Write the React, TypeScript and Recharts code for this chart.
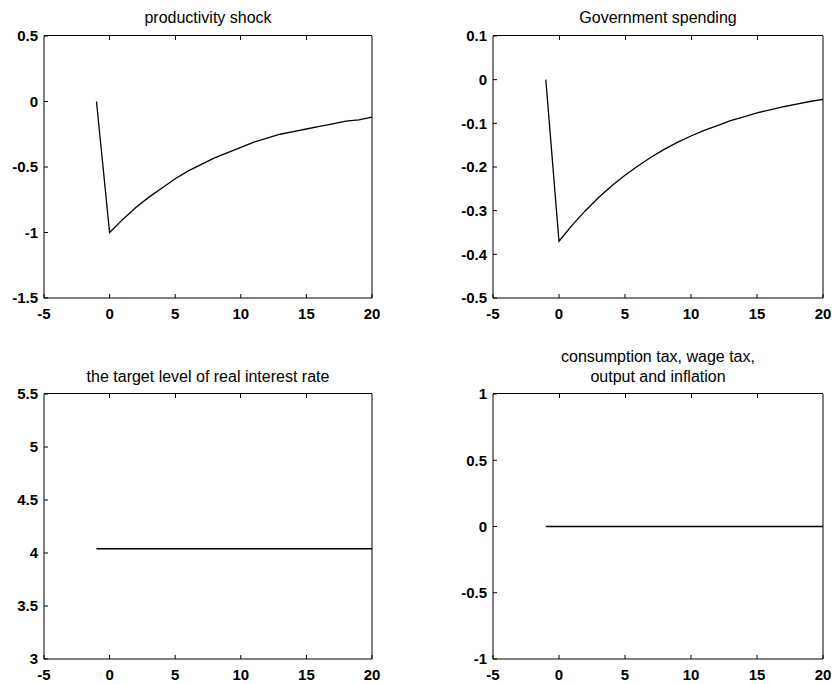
import { LineChart, Line, XAxis, YAxis } from "recharts";

// impulse responses, period -1 is the steady state before the shock
const periods = [-1, 0, 1, 2, 3, 4, 5, 6, 7, 8, 9, 10, 11, 12, 13, 14, 15, 16, 17, 18, 19, 20];

const productivity = [
    0, -1, -0.9, -0.81, -0.73, -0.66, -0.59, -0.53, -0.48, -0.43, -0.39, -0.35,
    -0.31, -0.28, -0.25, -0.23, -0.21, -0.19, -0.17, -0.15, -0.14, -0.12,
];

const government = [
    0, -0.37, -0.333, -0.3, -0.27, -0.243, -0.219, -0.197, -0.177, -0.159, -0.143,
    -0.129, -0.116, -0.105, -0.094, -0.085, -0.076, -0.069, -0.062, -0.056, -0.05, -0.045,
];

const interestRate = [
    4.04, 4.04, 4.04, 4.04, 4.04, 4.04, 4.04, 4.04, 4.04, 4.04, 4.04,
    4.04, 4.04, 4.04, 4.04, 4.04, 4.04, 4.04, 4.04, 4.04, 4.04, 4.04,
];

const taxesOutputInflation = [
    0, 0, 0, 0, 0, 0, 0, 0, 0, 0, 0, 0, 0, 0, 0, 0, 0, 0, 0, 0, 0, 0,
];

const xTicks = [-5, 0, 5, 10, 15, 20];
const productivityTicks = [-1.5, -1, -0.5, 0, 0.5];
const governmentTicks = [-0.5, -0.4, -0.3, -0.2, -0.1, 0, 0.1];
const interestTicks = [3, 3.5, 4, 4.5, 5, 5.5];
const taxTicks = [-1, -0.5, 0, 0.5, 1];

const FONT = "'Liberation Sans', Arial, sans-serif";

const tickStyle = { fill: "#000", fontSize: 15, fontFamily: FONT, fontWeight: 700 };

interface PanelProps {
    left: number;
    top: number;
    width: number;
    height: number;
    margin: { top: number; right: number; bottom: number; left: number };
    yWidth: number;
    xHeight: number;
    values: number[];
    yTicks: number[];
    title: string[];
    titleTop: number;
}

const Panel = ({
    left,
    top,
    width,
    height,
    margin,
    yWidth,
    xHeight,
    values,
    yTicks,
    title,
    titleTop,
}: PanelProps) => {
    const data = periods.map((t, i) => ({ t, v: values[i] }));
    const yMin = yTicks[0];
    const yMax = yTicks[yTicks.length - 1];
    const plotLeft = margin.left + yWidth;
    const plotWidth = width - margin.right - 1 - plotLeft;

    return (
        <div style={{ position: "absolute", left, top, width, height }}>
            <div
                style={{
                    position: "absolute",
                    left: plotLeft - 40,
                    width: plotWidth + 80,
                    top: titleTop,
                    textAlign: "center",
                    fontFamily: FONT,
                    fontSize: 16,
                    lineHeight: "20px",
                    color: "#000",
                }}
            >
                {title.map((line) => (
                    <div key={line}>{line}</div>
                ))}
            </div>
            <LineChart width={width} height={height} data={data} margin={margin}>
                <XAxis
                    xAxisId="bottom"
                    dataKey="t"
                    type="number"
                    domain={[-5, 20]}
                    ticks={xTicks}
                    interval={0}
                    height={xHeight}
                    stroke="#000"
                    tickSize={-4}
                    tickMargin={14}
                    tick={tickStyle}
                />
                <YAxis
                    yAxisId="left"
                    type="number"
                    domain={[yMin, yMax]}
                    ticks={yTicks}
                    interval={0}
                    width={yWidth}
                    stroke="#000"
                    tickSize={-4}
                    tickMargin={10}
                    tick={tickStyle}
                />
                <YAxis
                    yAxisId="right"
                    orientation="right"
                    type="number"
                    domain={[yMin, yMax]}
                    ticks={yTicks}
                    interval={0}
                    width={1}
                    stroke="#000"
                    tickSize={-5}
                    tick={false}
                />
                <Line
                    xAxisId="bottom"
                    yAxisId="left"
                    type="linear"
                    dataKey="v"
                    stroke="#000"
                    strokeWidth={1.3}
                    dot={false}
                    isAnimationActive={false}
                />
            </LineChart>
            {/* top edge of the axes box with its inward ticks */}
            <div
                style={{
                    position: "absolute",
                    left: plotLeft,
                    top: margin.top - 1,
                    width: plotWidth,
                    height: 1,
                    background: "#000",
                }}
            />
            {xTicks.slice(1, -1).map((x) => (
                <div
                    key={x}
                    style={{
                        position: "absolute",
                        left: plotLeft + ((x - xTicks[0]) / (xTicks[xTicks.length - 1] - xTicks[0])) * plotWidth - 0.5,
                        top: margin.top,
                        width: 1,
                        height: 4,
                        background: "#000",
                    }}
                />
            ))}
        </div>
    );
};

export default function App() {
    return (
        <div
            style={{
                position: "absolute",
                left: 0,
                top: 0,
                width: 835,
                height: 684,
                background: "#fff",
            }}
        >
            <Panel
                left={0}
                top={0}
                width={420}
                height={330}
                margin={{ top: 36, right: 47, bottom: 0, left: 0 }}
                yWidth={44}
                xHeight={32}
                values={productivity}
                yTicks={productivityTicks}
                title={["productivity shock"]}
                titleTop={8}
            />
            <Panel
                left={420}
                top={0}
                width={415}
                height={330}
                margin={{ top: 36, right: 11, bottom: 0, left: 23 }}
                yWidth={50}
                xHeight={32}
                values={government}
                yTicks={governmentTicks}
                title={["Government spending"]}
                titleTop={8}
            />
            <Panel
                left={0}
                top={330}
                width={420}
                height={354}
                margin={{ top: 64, right: 47, bottom: 0, left: 0 }}
                yWidth={44}
                xHeight={25}
                values={interestRate}
                yTicks={interestTicks}
                title={["the target level of real interest rate"]}
                titleTop={37}
            />
            <Panel
                left={420}
                top={330}
                width={415}
                height={354}
                margin={{ top: 64, right: 11, bottom: 0, left: 23 }}
                yWidth={50}
                xHeight={25}
                values={taxesOutputInflation}
                yTicks={taxTicks}
                title={["consumption tax, wage tax,", "output and inflation"]}
                titleTop={17}
            />
        </div>
    );
}
